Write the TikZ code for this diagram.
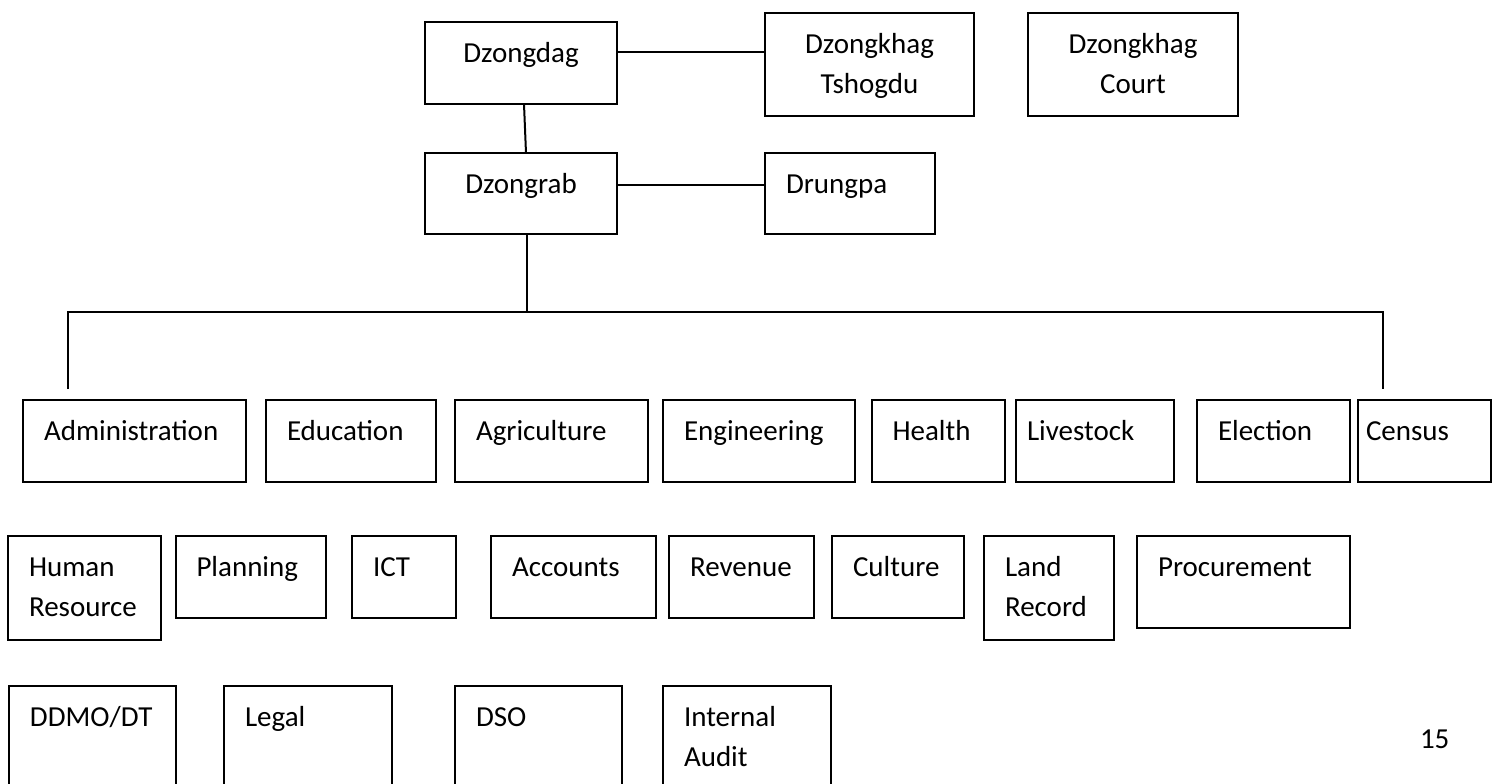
\documentclass[tikz,border=0pt]{standalone}
\usepackage{fontspec}
\setmainfont{Carlito}
\usetikzlibrary{positioning}

\begin{document}
\begin{tikzpicture}[
        line width=1pt,
        unit/.style={draw, line width=1pt, outer sep=0pt, anchor=north west, align=left, inner xsep=10.5pt, inner ysep=0pt, text height=20pt, text depth=21pt, font=\fontsize{14.5pt}{20pt}\selectfont},
        head/.style={unit, align=center}
    ]
    \useasboundingbox (0,0) rectangle (750.5pt,-391.5pt);
    \clip (0,0) rectangle (750.5pt,-391.5pt);

    % Dzongdag and Dzongrab
    \node[head, text width=75pt] (dzongdag) at (212.5pt,-11pt) {Dzongdag};
    \node[head, text width=83.5pt, text depth=31.5pt, right=74pt of dzongdag.north east, anchor=north west, yshift=4.5pt] (tshogdu) {Dzongkhag\\Tshogdu};
    \node[head, text width=84pt, text depth=31.5pt, right=27pt of tshogdu.north east, anchor=north west] (court) {Dzongkhag\\Court};
    \node[head, text width=75pt, text depth=20.5pt, below=24.5pt of dzongdag.south west, anchor=north west] (dzongrab) {Dzongrab};
    \node[unit, text width=64pt, text depth=20.5pt, right=74pt of dzongrab.north east, anchor=north west] (drungpa) {Drungpa};

    \draw ([yshift=5.5pt]dzongdag.east) -- ([yshift=5.5pt]dzongdag.east -| tshogdu.west);
    \draw ([yshift=4.25pt]dzongrab.east) -- ([yshift=4.25pt]dzongrab.east -| drungpa.west);
    \draw ([xshift=1.5pt]dzongdag.south) -- ([xshift=2.5pt]dzongrab.north);

    % Bus to the sectors
    \coordinate[below=39pt of dzongrab.south, xshift=3pt] (bus);
    \coordinate (busL) at (34pt,-156pt);
    \coordinate (busR) at (691.5pt,-156pt);
    \coordinate (dropL) at (34pt,-194.5pt);
    \coordinate (dropR) at (691.5pt,-194.5pt);
    \draw ([xshift=3pt]dzongrab.south) -- (bus);
    \draw (dropL) -- (busL) -- (busR) -- (dropR);

    % Row 1
    \node[unit, text width=90.5pt] (adm) at (11.5pt,-200pt) {Administration};
    \node[unit, text width=64pt, right=10pt of adm.north east, anchor=north west] (edu) {Education};
    \node[unit, text width=75.5pt, right=9.5pt of edu.north east, anchor=north west] (agr) {Agriculture};
    \node[unit, text width=75pt, right=7.5pt of agr.north east, anchor=north west] (eng) {Engineering};
    \node[unit, text width=45.5pt, right=8.25pt of eng.north east, anchor=north west] (hea) {Health};
    \node[unit, inner xsep=5.5pt, text width=67.75pt, right=5.75pt of hea.north east, anchor=north west] (liv) {Livestock};
    \node[unit, text width=55.5pt, right=11.75pt of liv.north east, anchor=north west] (ele) {Election};
    \node[unit, inner xsep=4pt, text width=58.5pt, right=4pt of ele.north east, anchor=north west] (cen) {Census};

    % Row 2
    \node[unit, text width=55.5pt, text depth=32pt] (hr) at (4pt,-268pt) {Human\\Resource};
    \node[unit, text width=54.25pt, right=7.25pt of hr.north east, anchor=north west] (pla) {Planning};
    \node[unit, text width=31pt, right=13pt of pla.north east, anchor=north west] (ict) {ICT};
    \node[unit, text width=61.5pt, right=17.5pt of ict.north east, anchor=north west] (acc) {Accounts};
    \node[unit, text width=51.5pt, right=6.5pt of acc.north east, anchor=north west] (rev) {Revenue};
    \node[unit, text width=45pt, right=9pt of rev.north east, anchor=north west] (cul) {Culture};
    \node[unit, text width=44pt, text depth=32pt, right=10pt of cul.north east, anchor=north west] (lan) {Land\\Record};
    \node[unit, text width=85.5pt, text depth=26pt, right=11.5pt of lan.north east, anchor=north west] (pro) {Procurement};

    % Row 3
    \node[unit, text width=62.25pt, text depth=60pt] (ddm) at (4.5pt,-343pt) {DDMO/DT};
    \node[unit, text width=63pt, text depth=60pt, right=24.25pt of ddm.north east, anchor=north west] (leg) {Legal};
    \node[unit, text width=62.5pt, text depth=60pt, right=31.5pt of leg.north east, anchor=north west] (dso) {DSO};
    \node[unit, text width=63pt, text depth=60pt, right=20.5pt of dso.north east, anchor=north west] (aud) {Internal\\Audit};

    \node[anchor=base west, inner sep=0pt, font=\fontsize{14.5pt}{20pt}\selectfont] (pagenum) at (709.5pt,-374pt) {15};

\end{tikzpicture}
\end{document}
